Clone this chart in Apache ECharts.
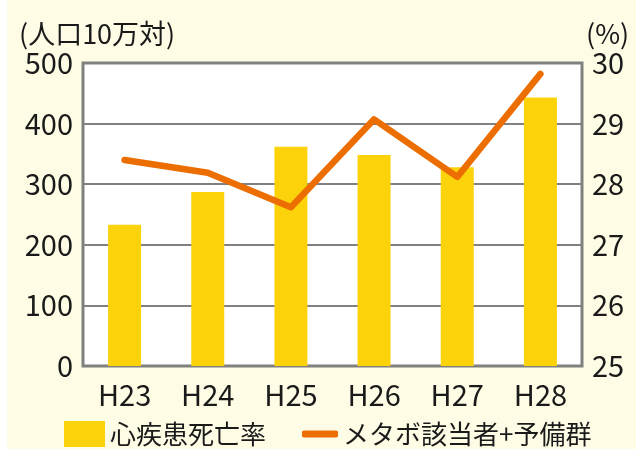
<!DOCTYPE html>
<html>
<head>
<meta charset="utf-8">
<script src="https://cdn.jsdelivr.net/npm/echarts@6/dist/echarts.min.js"></script>
<style>
  html, body { margin: 0; padding: 0; background: #fffce5; }
  #main { width: 636px; height: 449px; }
</style>
</head>
<body>
<div id="main"></div>
<script>
// データ
var years = ['H23', 'H24', 'H25', 'H26', 'H27', 'H28'];
var deathRate = [233, 287, 362, 348, 328, 443];       // 心疾患死亡率(人口10万対)
var metaboRate = [28.4, 28.19, 27.62, 29.07, 28.12, 29.82]; // メタボ該当者+予備群(%)
var leftTicks = [0, 500, 100];
var rightTicks = [25, 30, 1];

var font = '"Noto Sans CJK JP", "Noto Sans", sans-serif';
var txt = '#1a1a1a';

var myChart = echarts.init(document.getElementById('main'));

var option = {
  backgroundColor: '#fffce5',
  animation: false,
  textStyle: { fontFamily: font },
  grid: {
    left: 83, right: 54, top: 63, bottom: 83,
    show: true,
    backgroundColor: '#ffffff',
    borderColor: '#808080',
    borderWidth: 3
  },
  graphic: [
    { type: 'rect', left: 0, top: 0, shape: { width: 7, height: 449 }, style: { fill: '#ffffff' } },
    { type: 'text', left: 19, top: 20, style: { text: '(人口10万対)', font: '27px ' + font, fill: txt } },
    { type: 'text', left: 586, top: 20, style: { text: '(%)', font: '27px ' + font, fill: txt } }
  ],
  legend: [
    {
      data: [{ name: '心疾患死亡率', icon: 'rect' }],
      left: 59, top: 416,
      itemWidth: 41, itemHeight: 26,
      textStyle: { fontSize: 26, color: txt, fontFamily: font }
    },
    {
      data: [{ name: 'メタボ該当者+予備群', icon: 'roundRect' }],
      left: 297, top: 416,
      itemWidth: 36, itemHeight: 7,
      textStyle: { fontSize: 26, color: txt, fontFamily: font }
    }
  ],
  xAxis: {
    type: 'category',
    data: years,
    axisLine: { show: false },
    axisTick: { show: false },
    axisLabel: { fontSize: 29, color: txt, margin: 14 }
  },
  yAxis: [
    {
      type: 'value',
      min: leftTicks[0], max: leftTicks[1], interval: leftTicks[2],
      axisLine: { show: false },
      axisTick: { show: false },
      axisLabel: { fontSize: 29, color: txt, margin: 10 },
      splitLine: { lineStyle: { color: '#808080', width: 2 } }
    },
    {
      type: 'value',
      min: rightTicks[0], max: rightTicks[1], interval: rightTicks[2],
      axisLine: { show: false },
      axisTick: { show: false },
      axisLabel: { fontSize: 29, color: txt, margin: 10 },
      splitLine: { show: false }
    }
  ],
  series: [
    {
      name: '心疾患死亡率',
      type: 'bar',
      data: deathRate,
      barWidth: 33,
      itemStyle: { color: '#fcd20a' }
    },
    {
      name: 'メタボ該当者+予備群',
      type: 'line',
      yAxisIndex: 1,
      data: metaboRate,
      symbol: 'none',
      lineStyle: { color: '#ec6d00', width: 6.5, cap: 'round', join: 'round' },
      itemStyle: { color: '#ec6d00' }
    }
  ]
};

myChart.setOption(option);
</script>
</body>
</html>
